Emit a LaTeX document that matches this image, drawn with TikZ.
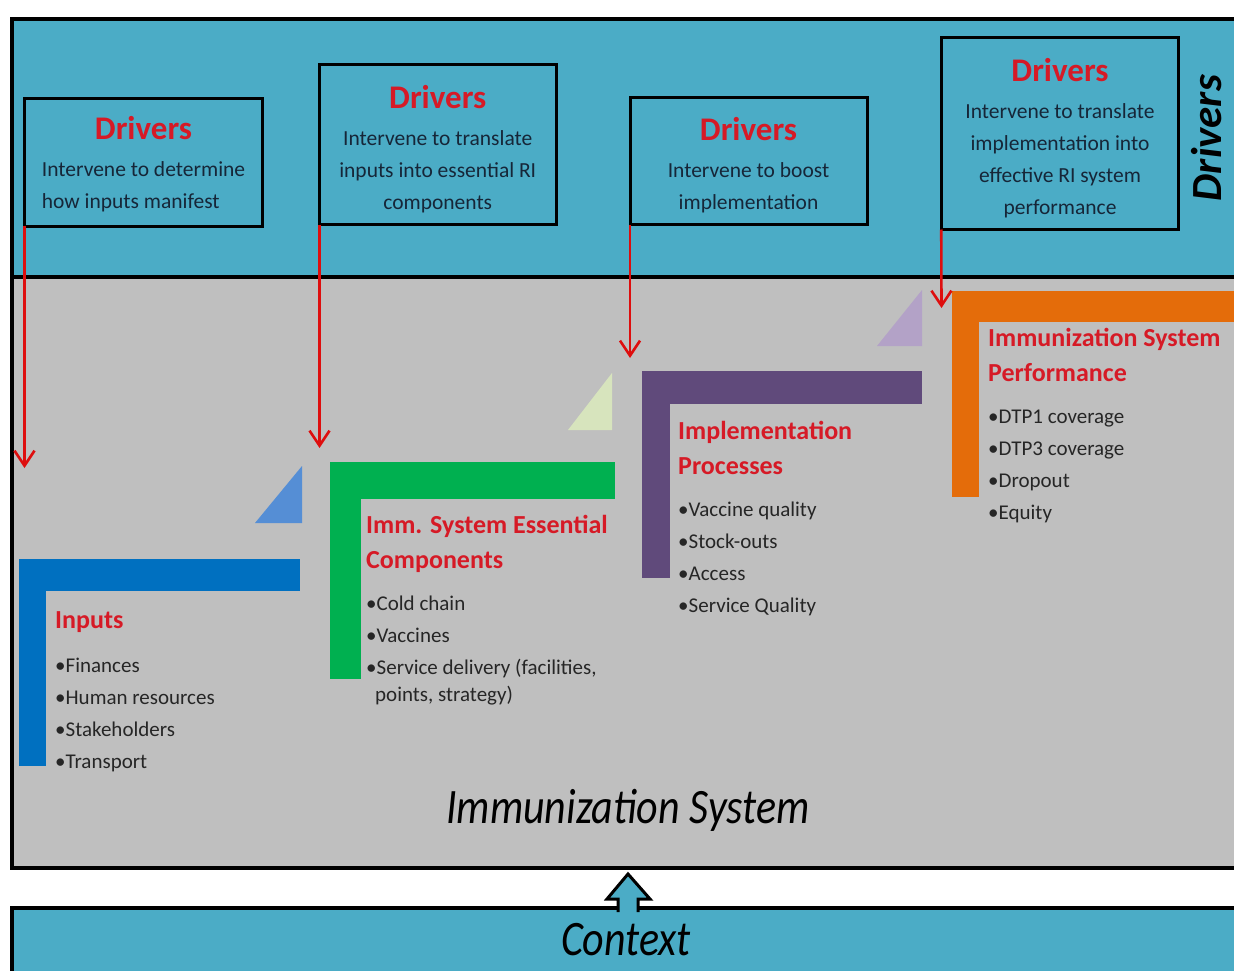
\documentclass[tikz,border=0pt]{standalone}
\usepackage{fontspec}
\setmainfont{Carlito}
\usetikzlibrary{arrows.meta}

\definecolor{drvblue}{RGB}{75,172,198}
\definecolor{sysgray}{RGB}{191,191,191}
\definecolor{headred}{RGB}{214,26,38}
\definecolor{arrred}{RGB}{222,14,14}
\definecolor{drvtext}{RGB}{22,38,56}
\definecolor{listtext}{RGB}{38,38,38}
\definecolor{inblue}{RGB}{0,112,192}
\definecolor{cmpgreen}{RGB}{0,176,80}
\definecolor{prcpurple}{RGB}{96,74,123}
\definecolor{perforange}{RGB}{228,108,10}
\definecolor{triblue}{RGB}{85,142,213}
\definecolor{trigreen}{RGB}{215,228,189}
\definecolor{tripurple}{RGB}{179,162,199}

\newcommand{\drvhead}{\fontsize{33}{33}\selectfont\bfseries\color{headred}\rule{0pt}{32pt}}
\newcommand{\blockhead}{\fontsize{26}{35}\selectfont\bfseries\color{headred}}

\begin{document}
\begin{tikzpicture}[x=1pt,y=-1pt,
    band/.style={draw=black, line width=4pt, fill=drvblue},
    sysband/.style={draw=black, line width=4pt, fill=sysgray},
    drvbox/.style={draw=black, line width=3pt, fill=drvblue, outer sep=0pt, inner sep=0pt,
      align=center, text=drvtext, font=\fontsize{21.5}{32}\selectfont},
    drvarrow/.style={draw=arrred, line width=2.6pt, -{Straight Barb[length=15pt,width=20pt]}},
    blocktext/.style={anchor=north west, inner sep=0pt, align=left, text=listtext,
      font=\fontsize{21}{32}\selectfont},
    biglabel/.style={inner sep=0pt, font=\fontsize{42}{42}\selectfont\itshape, text=black}]
    \useasboundingbox (0,0) rectangle (1234,971);

    % bands
    \draw[band] (12,19) rectangle (1250,277);
    \draw[sysband] (12,277) rectangle (1250,868);
    \draw[band] (12,908) rectangle (1250,995);

    % driver boxes
    \node[drvbox, minimum width=238, minimum height=127] (drv1) at (143.5,162.5)
      {\drvhead Drivers\\[5pt]\begin{tabular}[t]{@{}l@{}}Intervene to determine\\how inputs manifest\end{tabular}};
    \node[drvbox, minimum width=236.5, minimum height=160] (drv2) at (437.75,144.5)
      {\drvhead Drivers\\[5pt]Intervene to translate\\inputs into essential RI\\components};
    \node[drvbox, minimum width=237, minimum height=127] (drv3) at (748.5,161)
      {\drvhead Drivers\\[5pt]Intervene to boost\\implementation};
    \node[drvbox, minimum width=237.5, minimum height=192] (drv4) at (1060,133.5)
      {\drvhead Drivers\\[5pt]Intervene to translate\\implementation into\\effective RI system\\performance};
    \node[rotate=90, inner sep=0pt, font=\fontsize{43}{43}\selectfont\bfseries\itshape] (drvSide) at (1207,138) {Drivers};

    % L bars
    \fill[inblue] (19,559) rectangle (300,591);
    \fill[inblue] (19,559) rectangle (46,766);
    \fill[cmpgreen] (330,462) rectangle (615,499);
    \fill[cmpgreen] (330,462) rectangle (361,679);
    \fill[prcpurple] (642,371) rectangle (922,404);
    \fill[prcpurple] (642,371) rectangle (670,578);
    \fill[perforange] (952,291) rectangle (1240,322);
    \fill[perforange] (952,291) rectangle (979,497);

    % step triangles
    \fill[triblue] (255,523) -- (302,523) -- (302,466) -- cycle;
    \fill[trigreen] (568,430) -- (612,430) -- (612,373) -- cycle;
    \fill[tripurple] (877,346) -- (922,346) -- (922,290) -- cycle;

    % arrows from drivers
    \coordinate (tip1) at (24.5,468);
    \coordinate (tip2) at (319.5,448);
    \coordinate (tip3) at (630,358);
    \coordinate (tip4) at (941.5,308);
    \draw[drvarrow] (drv1.south west) -- (tip1);
    \draw[drvarrow] (drv2.south west) -- (tip2);
    \draw[drvarrow] (drv3.south west) -- (tip3);
    \draw[drvarrow] (drv4.south west) -- (tip4);

    % block texts
    \node[blocktext] (inputs) at (55,611)
      {\blockhead Inputs\\[12pt]•Finances\\•Human resources\\•Stakeholders\\•Transport};
    \node[blocktext] (components) at (366,515)
      {\blockhead Imm. System Essential\\[3pt]\blockhead Components\\[10pt]•Cold chain\\•Vaccines\\•Service delivery (facilities,\\[-5pt]\hspace*{9pt}points, strategy)};
    \node[blocktext] (processes) at (678,421)
      {\blockhead Implementation\\[3pt]\blockhead Processes\\[10pt]•Vaccine quality\\•Stock-outs\\•Access\\•Service Quality};
    \node[blocktext] (performance) at (988,328)
      {\blockhead Immunization System\\[3pt]\blockhead Performance\\[10pt]•DTP1 coverage\\•DTP3 coverage\\•Dropout\\•Equity};

    % system and context
    \node[biglabel] (sysLabel) at (628,810) {\scalebox{1}[1.18]{Immunization System}};
    \node[biglabel] (ctxLabel) at (626,940) {\scalebox{1}[1.18]{Context}};
    \filldraw[fill=drvblue, draw=black, line width=3pt, line join=miter]
      (618,912) -- (618,899) -- (607,899) -- (628,874) -- (650,899) -- (638,899) -- (638,912);
\end{tikzpicture}
\end{document}
